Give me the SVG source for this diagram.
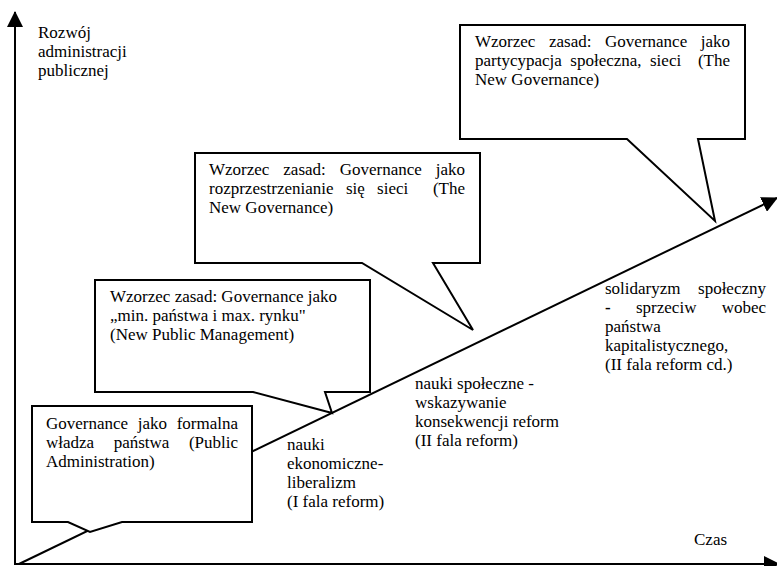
<svg xmlns="http://www.w3.org/2000/svg" width="777" height="566" viewBox="0 0 777 566">
<style>
  text { font-family: "Liberation Serif", "Times New Roman", serif; font-size: 17px; fill: #000; }
  .end { text-anchor: end; }
  .box { fill: #fff; stroke: #000; stroke-width: 2; stroke-linejoin: miter; }
  .axis { fill: none; stroke: #000; stroke-width: 2; }
</style>
<defs>
  <marker id="ah" markerUnits="userSpaceOnUse" markerWidth="16" markerHeight="16" refX="15" refY="8" orient="auto" viewBox="0 0 16 16">
    <path d="M0,0 L16,8 L0,16 Z" fill="#000"/>
  </marker>
</defs>
<rect width="777" height="566" fill="#fff"/>

<g id="connectors">
  <line class="axis" x1="15" y1="564" x2="15" y2="12" marker-end="url(#ah)"/>
  <line class="axis" x1="14" y1="564" x2="779" y2="564" marker-end="url(#ah)"/>
  <line class="axis" x1="19" y1="564" x2="777" y2="198" marker-end="url(#ah)"/>
</g>

<g id="label-y">
  <text x="38" y="38">Rozwój</text>
  <text x="38" y="57">administracji</text>
  <text x="38" y="76">publicznej</text>
</g>
<g id="label-x">
  <text x="694" y="545">Czas</text>
</g>

<g id="node-public-administration">
  <path class="box" d="M32,406 H252 V522 H122 L90,532 L68,522 H32 Z"/>
  <text x="46" y="429">Governance</text><text x="137.7" y="429">jako</text><text class="end" x="238" y="429">formalna</text>
  <text x="46" y="448">władza</text><text x="113.7" y="448">państwa</text><text class="end" x="238" y="448">(Public</text>
  <text x="46" y="467">Administration)</text>
</g>

<g id="node-npm">
  <path class="box" d="M95,280 H370 V392 H325 L332,413 L253,392 H95 Z"/>
  <text x="110" y="302">Wzorzec zasad: Governance jako</text>
  <text x="110" y="321">„min. państwa i max. rynku"</text>
  <text x="110" y="340">(New Public Management)</text>
</g>

<g id="node-new-governance-1">
  <path class="box" d="M195,153 H480 V263 H433 L473,330 L362,263 H195 Z"/>
  <text x="209" y="175">Wzorzec</text><text x="283.3" y="175">zasad:</text><text x="339.7" y="175">Governance</text><text class="end" x="465" y="175">jako</text>
  <text x="209" y="194">rozprzestrzenianie</text><text x="345.9" y="194">się</text><text x="377.1" y="194">sieci</text><text class="end" x="465" y="194">(The</text>
  <text x="209" y="213">New Governance)</text>
</g>

<g id="node-new-governance-2">
  <path class="box" d="M460,25 H745 V139 H698 L715,221 L627,139 H460 Z"/>
  <text x="475" y="47">Wzorzec</text><text x="549" y="47">zasad:</text><text x="605.1" y="47">Governance</text><text class="end" x="730" y="47">jako</text>
  <text x="475" y="66">partycypacja</text><text x="570.3" y="66">społeczna,</text><text x="650" y="66">sieci</text><text class="end" x="730" y="66">(The</text>
  <text x="475" y="85">New Governance)</text>
</g>

<g id="label-wave-1">
  <text x="287" y="450">nauki</text>
  <text x="287" y="469">ekonomiczne-</text>
  <text x="287" y="488">liberalizm</text>
  <text x="287" y="507">(I fala reform)</text>
</g>

<g id="label-wave-2">
  <text x="415" y="389">nauki społeczne -</text>
  <text x="415" y="408">wskazywanie</text>
  <text x="415" y="427">konsekwencji reform</text>
  <text x="415" y="446">(II fala reform)</text>
</g>

<g id="label-wave-2b">
  <text x="605" y="294">solidaryzm</text><text class="end" x="766" y="294">społeczny</text>
  <text x="605" y="313" font-weight="bold">-</text><text x="636" y="313">sprzeciw</text><text class="end" x="766" y="313">wobec</text>
  <text x="605" y="332">państwa</text>
  <text x="605" y="351">kapitalistycznego,</text>
  <text x="605" y="370">(II fala reform cd.)</text>
</g>
</svg>
